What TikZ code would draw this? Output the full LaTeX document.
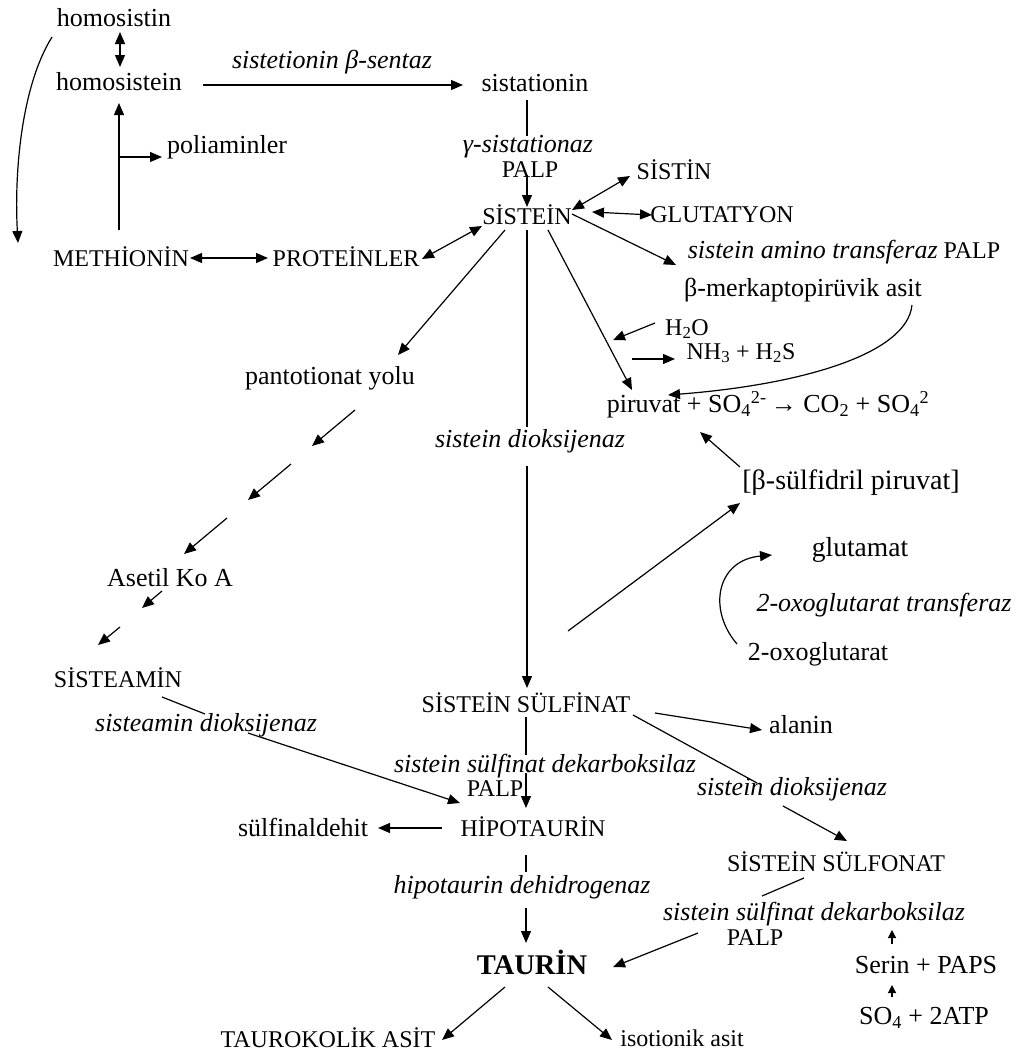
\documentclass[tikz,border=0pt]{standalone}
\usepackage{fontspec}
\setmainfont{Liberation Serif}
\usetikzlibrary{arrows.meta,calc}
\tikzset{
  lbl/.style={font=\fontsize{26}{28}\selectfont, inner sep=0pt, anchor=center},
  capl/.style={font=\fontsize{24}{26}\selectfont, inner sep=0pt, anchor=center},
  enz/.style={font=\itshape\fontsize{26}{28}\selectfont, inner sep=0pt, anchor=center},
  ln/.style={line width=1.2pt},
  arr/.style={ln, -{Triangle[length=12pt,width=10pt]}},
  darr/.style={ln, {Triangle[length=12pt,width=10pt]}-{Triangle[length=12pt,width=10pt]}},
  sarr/.style={ln, -{Triangle[length=8pt,width=8pt]}},
}
\begin{document}
\begin{tikzpicture}[x=1pt,y=-1pt]
\fill[white] (0,0) rectangle (1018,1052);
\useasboundingbox (0,0) rectangle (1018,1052);

% nodes
\node[lbl] (homosistin) at (114,18) {homosistin};
\node[lbl] (homosistein) at (119,82) {homosistein};
\node[enz] (cbs) at (332,62) {sistetionin β-sentaz};
\node[lbl] (sistationin) at (535,83) {sistationin};
\node[capl] (methionin) at (121,257) {METHİONİN};
\node[lbl] (poliaminler) at (227,147) {poliaminler};
\node[capl] (proteinler) at (346,257) {PROTEİNLER};
\node[enz] (gsist) at (528,147) {γ-sistationaz};
\node[capl] (palpA) at (530,170) {PALP};
\node[capl] (sistein) at (527,215) {SİSTEİN};
\node[capl] (sistin) at (674,170) {SİSTİN};
\node[capl] (glutatyon) at (722,215) {GLUTATYON};
\node[capl] (sat) at (844,252) {{\itshape\fontsize{26}{28}\selectfont sistein amino transferaz} PALP};
\node[lbl] (bmerk) at (803,290) {β-merkaptopirüvik asit};
\node[capl] (h2o) at (687,329) {H\textsubscript{2}O};
\node[capl] (nh3) at (741,353) {NH\textsubscript{3} + H\textsubscript{2}S};
\node[lbl] (piruvat) at (768,405) {piruvat + SO\textsubscript{4}\textsuperscript{2-}\,→ CO\textsubscript{2} + SO\textsubscript{4}\textsuperscript{2}};
\node[lbl, font=\fontsize{28}{30}\selectfont] (bsulf) at (851,483) {[β-sülfidril piruvat]};
\node[lbl, font=\fontsize{27.5}{30}\selectfont] (glutamat) at (860,550) {glutamat};
\node[enz] (oxotr) at (884,605) {2-oxoglutarat transferaz};
\node[lbl] (oxoglu) at (818,654) {2-oxoglutarat};
\node[lbl] (pantot) at (330,378) {pantotionat yolu};
\node[enz] (sdiox) at (530,441) {sistein dioksijenaz};
\node[lbl] (asetil) at (170,578) {Asetil Ko A};
\node[capl] (sisteamin) at (118,678) {SİSTEAMİN};
\node[enz] (sadiox) at (206,725) {sisteamin dioksijenaz};
\node[capl] (sulfinat) at (526,703) {SİSTEİN SÜLFİNAT};
\node[lbl] (alanin) at (801,725) {alanin};
\node[enz] (sdioxB) at (792,789) {sistein dioksijenaz};
\node[enz] (ssdek) at (545,766) {sistein sülfinat dekarboksilaz};
\node[capl] (palpB) at (495,789) {PALP};
\node[capl] (hipotaurin) at (533,827) {HİPOTAURİN};
\node[lbl] (sulfinaldehit) at (303,827) {sülfinaldehit};
\node[enz] (hdh) at (522,887) {hipotaurin dehidrogenaz};
\node[capl, font=\bfseries\fontsize{28.5}{30}\selectfont] (taurin) at (532,962) {TAURİN};
\node[capl] (sulfonat) at (836,862) {SİSTEİN SÜLFONAT};
\node[enz] (ssdekB) at (814,914) {sistein sülfinat dekarboksilaz};
\node[capl] (palpC) at (755,938) {PALP};
\node[lbl] (serin) at (926,965) {Serin + PAPS};
\node[lbl] (so4) at (924,1018) {SO\textsubscript{4} + 2ATP};
\node[capl] (taurokolik) at (328,1038) {TAUROKOLİK ASİT};
\node[capl] (isotionik) at (682,1038) {isotionik asit};

% connectors
\draw[darr] ($(homosistin)+(6,14)$) -- ($(homosistein)+(1,-15)$);
\draw[arr] ($(homosistin)+(-62,19)$) .. controls +(-30,48) and +(-4,-73) .. ($(methionin)+(-103,-14)$);
\draw[arr] ($(homosistein)+(84,3)$) -- ($(sistationin)+(-72,2)$);
\draw[arr] ($(methionin)+(-2,-27)$) -- ($(homosistein)+(0,21)$);
\draw[arr] ($(methionin)+(-2,-100)$) -- ($(poliaminler)+(-65,10)$);
\draw[darr] ($(methionin)+(69,1)$) -- ($(proteinler)+(-78,1)$);
\draw[darr] ($(proteinler)+(76,2)$) -- ($(sistein)+(-45,11)$);
\draw[ln] ($(sistationin)+(-8,17)$) -- ($(gsist)+(-1,-11)$);
\draw[arr] ($(palpA)+(-3,5)$) -- ($(sistein)+(0,-8)$);
\draw[darr] ($(sistein)+(45,-5)$) -- ($(sistin)+(-44,6)$);
\draw[darr] ($(sistein)+(65,-3)$) -- ($(glutatyon)+(-70,0)$);
\draw[arr] ($(sistein)+(45,-1)$) -- ($(sat)+(-168,13)$);
\draw[arr] ($(bmerk)+(109,15)$) .. controls +(-5,50) and +(130,-10) .. ($(piruvat)+(-100,-10)$);
\draw[arr] ($(h2o)+(-32,-6)$) -- ($(h2o)+(-74,11)$);
\draw[arr] ($(nh3)+(-109,6)$) -- ($(nh3)+(-66,6)$);
\draw[arr] ($(sistein)+(21,15)$) -- ($(piruvat)+(-136,-15)$);
\draw[arr] ($(bsulf)+(-111,-16)$) -- ($(piruvat)+(-68,27)$);
\draw[arr] ($(sulfinat)+(42,-72)$) -- ($(bsulf)+(-111,20)$);
\draw[arr] ($(oxoglu)+(-81,-10)$) .. controls +(-30,-35) and +(-55,5) .. ($(glutamat)+(-88,5)$);
\draw[arr] ($(sistein)+(-22,15)$) -- ($(pantot)+(68,-23)$);
\draw[arr] ($(pantot)+(25,32)$) -- ($(pantot)+(-18,68)$);
\draw[arr] ($(pantot)+(-39,86)$) -- ($(asetil)+(78,-78)$);
\draw[arr] ($(asetil)+(57,-60)$) -- ($(asetil)+(14,-24)$);
\draw[arr] ($(asetil)+(-8,13)$) -- ($(asetil)+(-28,30)$);
\draw[arr] ($(sisteamin)+(2,-51)$) -- ($(sisteamin)+(-20,-33)$);
\draw[ln] ($(sisteamin)+(44,19)$) -- ($(sadiox)+(-1,-11)$);
\draw[arr] ($(sadiox)+(42,8)$) -- ($(hipotaurin)+(-73,-24)$);
\draw[ln] ($(sistein)+(0,15)$) -- ($(sdiox)+(-3,-14)$);
\draw[arr] ($(sdiox)+(-3,25)$) -- ($(sulfinat)+(1,-15)$);
\draw[arr] ($(sulfinat)+(129,10)$) -- ($(alanin)+(-39,5)$);
\draw[ln] ($(sulfinat)+(107,12)$) -- ($(sdioxB)+(-35,-6)$);
\draw[arr] ($(sdioxB)+(-9,17)$) -- ($(sulfonat)+(11,-21)$);
\draw[ln] ($(sulfinat)+(0,14)$) -- ($(ssdek)+(-19,-11)$);
\draw[arr] ($(ssdek)+(-19,7)$) -- ($(hipotaurin)+(-7,-19)$);
\draw[arr] ($(hipotaurin)+(-91,1)$) -- ($(sulfinaldehit)+(75,1)$);
\draw[ln] ($(hipotaurin)+(-7,28)$) -- ($(hdh)+(4,-15)$);
\draw[arr] ($(hdh)+(4,21)$) -- ($(taurin)+(-6,-19)$);
\draw[ln] ($(sulfonat)+(-32,16)$) -- ($(ssdekB)+(-52,-18)$);
\draw[arr] ($(ssdekB)+(-116,19)$) -- ($(taurin)+(81,5)$);
\draw[sarr] ($(serin)+(-34,-21)$) -- ($(ssdekB)+(78,16)$);
\draw[sarr] ($(so4)+(-32,-21)$) -- ($(serin)+(-34,20)$);
\draw[arr] ($(taurin)+(-27,25)$) -- ($(taurokolik)+(114,2)$);
\draw[arr] ($(taurin)+(16,25)$) -- ($(isotionik)+(-70,2)$);
\end{tikzpicture}
\end{document}
